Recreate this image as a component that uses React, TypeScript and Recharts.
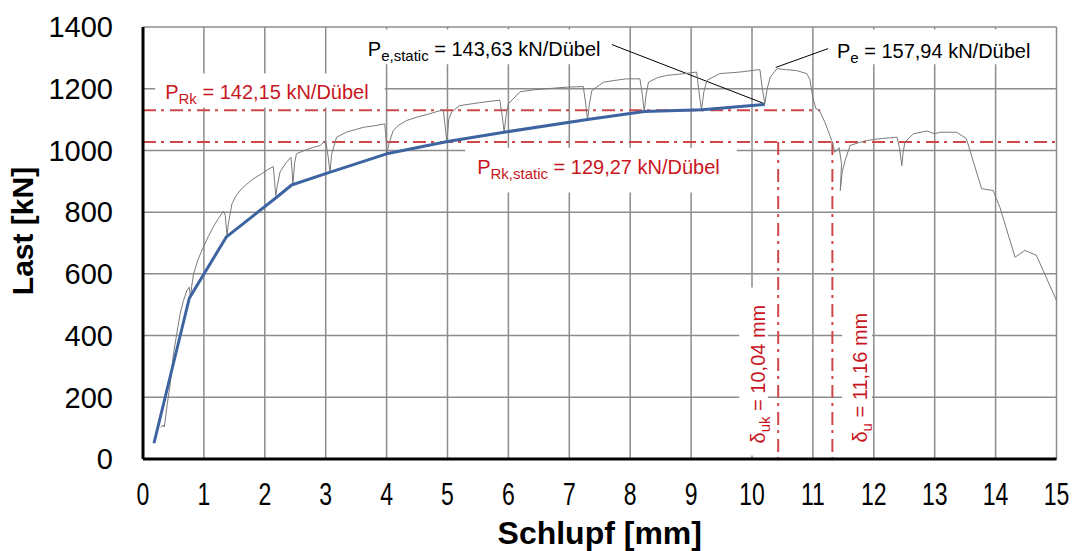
import {
  LineChart, Line, XAxis, YAxis, CartesianGrid, ReferenceLine, ReferenceArea,
} from "recharts";

const FONT = '"Liberation Sans", Arial, Helvetica, sans-serif';
const RED_TEXT = "#c8161e";
const RED_LINE = "#d0474a";
const DASH_DOT = "13 5 3 6";

/* ─── Versuch: Last-Schlupf-Kurve (grau) ─── */
const testSlip = [
  0.29, 0.33, 0.35, 0.4, 0.44, 0.5, 0.55, 0.61, 0.66, 0.72, 0.76, 0.78, 0.8, 0.83, 0.9, 0.99,
  1.07, 1.15, 1.24, 1.32, 1.35, 1.38, 1.4, 1.46, 1.52, 1.59, 1.7, 1.81, 1.95, 2.05, 2.14, 2.16,
  2.18, 2.21, 2.25, 2.35, 2.43, 2.45, 2.46, 2.49, 2.52, 2.65, 2.8, 2.91, 3.0, 3.04, 3.07, 3.1,
  3.18, 3.35, 3.5, 3.62, 3.8, 3.97, 3.99, 4.0, 4.05, 4.11, 4.2, 4.33, 4.5, 4.71, 4.93, 4.96,
  4.99, 5.02, 5.07, 5.2, 5.53, 5.86, 5.9, 5.93, 5.96, 6.0, 6.19, 6.4, 6.63, 6.96, 7.23, 7.27,
  7.3, 7.33, 7.37, 7.56, 7.75, 7.94, 8.16, 8.2, 8.23, 8.26, 8.3, 8.45, 8.6, 8.85, 9.09, 9.13,
  9.17, 9.21, 9.26, 9.47, 9.8, 10.13, 10.17, 10.21, 10.25, 10.3, 10.41, 10.55, 10.73, 10.9,
  10.95, 11.0, 11.05, 11.1, 11.2, 11.31, 11.36, 11.43, 11.47, 11.45, 11.48, 11.53, 11.61, 11.75,
  11.88, 12.1, 12.38, 12.42, 12.46, 12.48, 12.51, 12.65, 12.87, 13.0, 13.09, 13.36, 13.52, 13.77,
  13.96, 14.07, 14.32, 14.48, 14.67, 15.0,
];
const testLoad = [
  103, 110, 104, 180, 233, 341, 400, 471, 510, 546, 557, 522, 560, 600, 645, 686,
  720, 751, 780, 803, 790, 724, 760, 827, 850, 870, 890, 908, 925, 938, 948, 900,
  854, 890, 930, 960, 978, 930, 886, 960, 989, 1000, 1010, 1016, 1032, 980, 930, 990,
  1043, 1060, 1068, 1075, 1080, 1086, 1040, 989, 1030, 1065, 1082, 1097, 1108, 1119, 1132, 1080,
  1027, 1100, 1125, 1145, 1155, 1163, 1110, 1059, 1110, 1151, 1190, 1196, 1200, 1205, 1207, 1150,
  1097, 1150, 1194, 1221, 1227, 1232, 1232, 1180, 1124, 1180, 1221, 1236, 1243, 1248, 1254, 1190,
  1130, 1190, 1227, 1249, 1254, 1262, 1200, 1151, 1200, 1238, 1265, 1262, 1259, 1249,
  1230, 1170, 1135, 1132, 1090, 1032, 994, 1009, 957, 870, 930, 968, 1016, 1025,
  1032, 1038, 1043, 1010, 951, 990, 1027, 1054, 1063, 1054, 1059, 1059, 1038, 876,
  870, 816, 654, 676, 660, 514,
];

/* ─── Auswertung (blau) ─── */
const envSlip = [0.18, 0.76, 1.37, 2.2, 2.44, 3.05, 4.0, 5.0, 5.93, 7.3, 8.23, 9.18, 10.21];
const envLoad = [51, 521, 720, 849, 888, 928, 989, 1029, 1059, 1100, 1126, 1132, 1149];

const xTicks = [0, 1, 2, 3, 4, 5, 6, 7, 8, 9, 10, 11, 12, 13, 14, 15];
const yTicks = [0, 200, 400, 600, 800, 1000, 1200, 1400];

// charakteristische Werte wie im Diagramm eingezeichnet
const pRk = 1130;
const pRkStatic = 1027;
const pRkLineEnd = 11.12;
const deltaUkPos = 10.43;
const deltaUPos = 11.32;

const testData = testSlip.map((s, i) => ({ slip: s, load: testLoad[i] }));
const envData = envSlip.map((s, i) => ({ slip: s, load: envLoad[i] }));

type Ann = { dx: number; dy: number; main: string; sub: string; rest: string; color: string; vertical?: boolean };

const annotation = (a: Ann) => (props: any) => {
  const vb = props.viewBox || {};
  const x = vb.x + a.dx;
  const y = vb.y + a.dy;
  return (
    <text
      transform={`translate(${x},${y})${a.vertical ? " rotate(-90)" : ""}`}
      fill={a.color}
      fontFamily={FONT}
      fontSize={20}
      style={{ whiteSpace: "pre" }}
    >
      {a.main}
      <tspan fontSize={15} dy={5}>{a.sub}</tspan>
      <tspan dy={-5}>{a.rest}</tspan>
    </text>
  );
};

const XTick = ({ x, y, payload }: any) => (
  <text
    transform={`translate(${x},${y}) scale(0.72,1)`}
    textAnchor="middle"
    dy="0.71em"
    fontSize={32}
    fontFamily={FONT}
    fill="#000"
  >
    {payload.value}
  </text>
);

export default function App() {
  return (
    <div style={{ position: "absolute", left: 0, top: 0, background: "#fff" }}>
      <LineChart width={1077} height={551} margin={{ top: 27, right: 20.5, left: 0, bottom: 0 }}>
        <CartesianGrid stroke="#8c8c8c" strokeWidth={1.5} />
        <XAxis
          type="number"
          dataKey="slip"
          domain={[0, 15]}
          ticks={xTicks}
          allowDataOverflow
          height={92}
          tickSize={0}
          tickMargin={23}
          tickLine={false}
          axisLine={{ stroke: "#000", strokeWidth: 3 }}
          tick={<XTick />}
          label={(p: any) => (
            <text
              x={p.viewBox.x + p.viewBox.width / 2}
              y={p.viewBox.y + 85}
              textAnchor="middle"
              fontFamily={FONT}
              fontWeight="bold"
              fontSize={32}
              fill="#000"
            >
              Schlupf [mm]
            </text>
          )}
        />
        <YAxis
          type="number"
          domain={[0, 1400]}
          ticks={yTicks}
          allowDataOverflow
          width={143}
          tickSize={0}
          tickMargin={30}
          tickLine={false}
          axisLine={{ stroke: "#000", strokeWidth: 3 }}
          tick={{ fontSize: 29, fill: "#000", fontFamily: FONT }}
          label={(p: any) => (
            <text
              transform={`translate(${p.viewBox.x + 33},${p.viewBox.y + p.viewBox.height / 2 - 12}) rotate(-90)`}
              textAnchor="middle"
              fontFamily={FONT}
              fontWeight="bold"
              fontSize={30}
              fill="#000"
            >
              Last [kN]
            </text>
          )}
        />

        {/* Textfelder mit weißem Hintergrund */}
        <ReferenceArea x1={0.2} x2={3.97} y1={1139} y2={1249} fill="#fff" fillOpacity={1} stroke="none"
          label={annotation({ dx: 10, dy: 25, main: "P", sub: "Rk", rest: " = 142,15 kN/Dübel", color: RED_TEXT })} />
        <ReferenceArea x1={3.56} x2={7.7} y1={1279} y2={1392} fill="#fff" fillOpacity={1} stroke="none"
          label={annotation({ dx: 8, dy: 27, main: "P", sub: "e,static", rest: " = 143,63 kN/Dübel", color: "#000" })} />
        <ReferenceArea x1={11.28} x2={14.89} y1={1279} y2={1392} fill="#fff" fillOpacity={1} stroke="none"
          label={annotation({ dx: 7, dy: 29, main: "P", sub: "e", rest: " = 157,94 kN/Dübel", color: "#000" })} />
        <ReferenceArea x1={5.29} x2={9.75} y1={864} y2={1009} fill="#fff" fillOpacity={1} stroke="none"
          label={annotation({ dx: 12, dy: 26, main: "P", sub: "Rk,static", rest: " = 129,27 kN/Dübel", color: RED_TEXT })} />
        <ReferenceArea x1={9.79} x2={10.26} y1={11} y2={556} fill="#fff" fillOpacity={1} stroke="none"
          label={annotation({ dx: 26, dy: 156, main: "δ", sub: "uk", rest: " = 10,04 mm", color: RED_TEXT, vertical: true })} />
        <ReferenceArea x1={11.48} x2={11.97} y1={21} y2={546} fill="#fff" fillOpacity={1} stroke="none"
          label={annotation({ dx: 25, dy: 152, main: "δ", sub: "u", rest: " = 11,16 mm", color: RED_TEXT, vertical: true })} />

        {/* charakteristische Linien */}
        <ReferenceLine segment={[{ x: 0, y: pRk }, { x: pRkLineEnd, y: pRk }]} stroke={RED_LINE} strokeWidth={2} strokeDasharray={DASH_DOT} />
        <ReferenceLine segment={[{ x: 0, y: pRkStatic }, { x: 15, y: pRkStatic }]} stroke={RED_LINE} strokeWidth={2} strokeDasharray={DASH_DOT} />
        <ReferenceLine segment={[{ x: deltaUkPos, y: pRkStatic }, { x: deltaUkPos, y: 0 }]} stroke={RED_LINE} strokeWidth={2} strokeDasharray={DASH_DOT} />
        <ReferenceLine segment={[{ x: deltaUPos, y: pRkStatic }, { x: deltaUPos, y: 0 }]} stroke={RED_LINE} strokeWidth={2} strokeDasharray={DASH_DOT} />

        {/* Bezugslinien zu den Beschriftungen */}
        <ReferenceLine segment={[{ x: 7.7, y: 1343 }, { x: 10.21, y: 1151 }]} stroke="#000" strokeWidth={1} />
        <ReferenceLine segment={[{ x: 10.39, y: 1269 }, { x: 11.25, y: 1330 }]} stroke="#000" strokeWidth={1} />

        <Line data={testData} dataKey="load" type="linear" stroke="#7a7a7a" strokeWidth={1}
          dot={false} activeDot={false} isAnimationActive={false} />
        <Line data={envData} dataKey="load" type="linear" stroke="#3d64a0" strokeWidth={3}
          strokeLinejoin="round" dot={false} activeDot={false} isAnimationActive={false} />
      </LineChart>
    </div>
  );
}
